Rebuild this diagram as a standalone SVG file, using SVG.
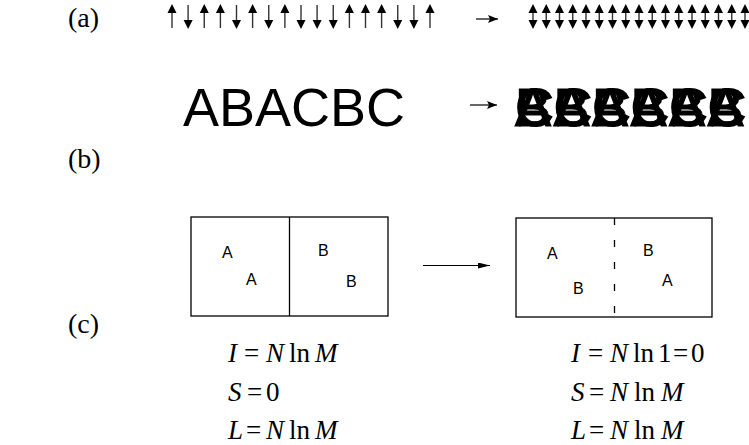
<svg xmlns="http://www.w3.org/2000/svg" xmlns:xlink="http://www.w3.org/1999/xlink" width="749" height="445" viewBox="0 0 749 445">
<style>
.lbl{font-family:"Liberation Serif","Times New Roman",serif;font-size:28px;fill:#000}
.big{font-family:"Liberation Sans",Arial,sans-serif;font-size:54px;fill:#000}
.blob{font-family:"Liberation Sans",Arial,sans-serif;font-size:54px;fill:#000;stroke:#000;stroke-width:1.2}
.sm{font-family:"Liberation Sans",Arial,sans-serif;font-size:16px;fill:#000}
.eq{font-family:"Liberation Serif","Times New Roman",serif;font-size:27px;fill:#000}
.it{font-style:italic}
.box{fill:none;stroke:#000;stroke-width:1.3}
.stem{stroke:#333;stroke-width:1.4}
.conn{stroke:#000;stroke-width:1.2;fill:none}
</style>
<defs>
<g id="up"><line class="stem" x1="0" y1="12" x2="0" y2="28"/><polygon points="0,4 -4.5,13 4.5,13"/></g>
<g id="dn"><line class="stem" x1="0" y1="5" x2="0" y2="21"/><polygon points="0,29 -4.5,20 4.5,20"/></g>
<g id="ud"><line class="stem" x1="0" y1="12" x2="0" y2="21"/><polygon points="0,4 -4.5,13 4.5,13"/><polygon points="0,29 -4.5,20 4.5,20"/></g>
<marker id="ah" viewBox="0 0 10 8" refX="10" refY="4" markerWidth="10" markerHeight="8" markerUnits="userSpaceOnUse" orient="auto"><polygon points="0,0 10,4 0,8 2,4"/></marker>
<marker id="ah2" viewBox="0 0 12 6" refX="12" refY="3" markerWidth="12" markerHeight="6" markerUnits="userSpaceOnUse" orient="auto"><polygon points="0,0 12,3 0,6"/></marker>
</defs>
<rect width="749" height="445" fill="#fff"/>

<g id="labels">
<text class="lbl" x="68" y="27">(a)</text>
<text class="lbl" x="68" y="168">(b)</text>
<text class="lbl" x="68" y="333">(c)</text>
</g>

<g id="row-a-before">
<use xlink:href="#up" x="172" y="0"/>
<use xlink:href="#dn" x="188.1" y="0"/>
<use xlink:href="#up" x="204.25" y="0"/>
<use xlink:href="#up" x="220.4" y="0"/>
<use xlink:href="#dn" x="236.5" y="0"/>
<use xlink:href="#up" x="252.6" y="0"/>
<use xlink:href="#dn" x="268.75" y="0"/>
<use xlink:href="#up" x="284.9" y="0"/>
<use xlink:href="#dn" x="301" y="0"/>
<use xlink:href="#dn" x="317.1" y="0"/>
<use xlink:href="#dn" x="333.25" y="0"/>
<use xlink:href="#up" x="349.4" y="0"/>
<use xlink:href="#up" x="365.5" y="0"/>
<use xlink:href="#up" x="381.6" y="0"/>
<use xlink:href="#dn" x="397.75" y="0"/>
<use xlink:href="#dn" x="413.9" y="0"/>
<use xlink:href="#up" x="430" y="0"/>
</g>

<g id="row-a-after">
<use xlink:href="#ud" x="533" y="0"/>
<use xlink:href="#ud" x="546.25" y="0"/>
<use xlink:href="#ud" x="559.5" y="0"/>
<use xlink:href="#ud" x="572.75" y="0"/>
<use xlink:href="#ud" x="586" y="0"/>
<use xlink:href="#ud" x="599.25" y="0"/>
<use xlink:href="#ud" x="612.5" y="0"/>
<use xlink:href="#ud" x="625.75" y="0"/>
<use xlink:href="#ud" x="639" y="0"/>
<use xlink:href="#ud" x="652.25" y="0"/>
<use xlink:href="#ud" x="665.5" y="0"/>
<use xlink:href="#ud" x="678.75" y="0"/>
<use xlink:href="#ud" x="692" y="0"/>
<use xlink:href="#ud" x="705.25" y="0"/>
<use xlink:href="#ud" x="718.5" y="0"/>
<use xlink:href="#ud" x="731.75" y="0"/>
<use xlink:href="#ud" x="745" y="0"/>
</g>

<g id="row-b-before">
<text class="big" x="183" y="126">ABACBC</text>
</g>

<g id="row-b-after">
<text class="blob" x="515 553.5 592 630.5 669 707.5" y="126">AAAAAA</text>
<text class="blob" x="515 553.5 592 630.5 669 707.5" y="126">BBBBBB</text>
<text class="blob" x="515 553.5 592 630.5 669 707.5" y="126">CCCCCC</text>
</g>

<g id="box-before">
<rect class="box" x="191" y="217" width="197" height="99"/>
<line class="box" x1="289.5" y1="217" x2="289.5" y2="316"/>
<text class="sm" x="222" y="258">A</text>
<text class="sm" x="246" y="285">A</text>
<text class="sm" x="318" y="256">B</text>
<text class="sm" x="346" y="287">B</text>
</g>

<g id="box-after">
<rect class="box" x="516" y="218" width="196" height="99"/>
<line class="box" x1="614.5" y1="218" x2="614.5" y2="317" stroke-dasharray="7 15"/>
<text class="sm" x="547" y="259">A</text>
<text class="sm" x="573" y="294">B</text>
<text class="sm" x="643" y="256">B</text>
<text class="sm" x="662" y="286">A</text>
</g>

<g id="connectors">
<line class="conn" x1="476" y1="19" x2="498" y2="19" marker-end="url(#ah)"/>
<line class="conn" x1="470" y1="105" x2="497" y2="105" marker-end="url(#ah)"/>
<line class="conn" x1="423" y1="265.5" x2="490" y2="265.5" marker-end="url(#ah2)"/>
</g>

<g id="eq-before">
<text class="eq" y="362"><tspan class="it" x="228">I</tspan><tspan x="244">=</tspan><tspan class="it" x="266">N</tspan><tspan x="289">ln</tspan><tspan class="it" x="315">M</tspan></text>
<text class="eq" y="401"><tspan class="it" x="228">S</tspan><tspan x="247">=</tspan><tspan x="266">0</tspan></text>
<text class="eq" y="439"><tspan class="it" x="228">L</tspan><tspan x="246">=</tspan><tspan class="it" x="266">N</tspan><tspan x="289">ln</tspan><tspan class="it" x="315">M</tspan></text>
</g>

<g id="eq-after">
<text class="eq" y="362"><tspan class="it" x="571">I</tspan><tspan x="588">=</tspan><tspan class="it" x="610">N</tspan><tspan x="633">ln</tspan><tspan x="658">1</tspan><tspan x="673">=</tspan><tspan x="691">0</tspan></text>
<text class="eq" y="401"><tspan class="it" x="571">S</tspan><tspan x="589">=</tspan><tspan class="it" x="610">N</tspan><tspan x="634">ln</tspan><tspan class="it" x="661">M</tspan></text>
<text class="eq" y="439"><tspan class="it" x="571">L</tspan><tspan x="589">=</tspan><tspan class="it" x="610">N</tspan><tspan x="634">ln</tspan><tspan class="it" x="661">M</tspan></text>
</g>
</svg>
